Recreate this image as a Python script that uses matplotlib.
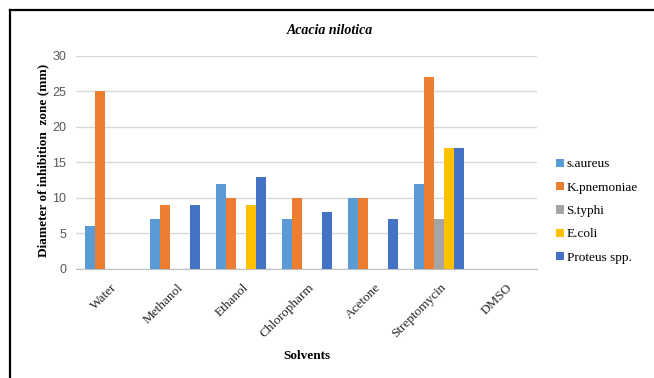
import matplotlib
matplotlib.use("Agg")
import matplotlib.pyplot as plt
import numpy as np
from matplotlib.lines import Line2D
from matplotlib.transforms import ScaledTranslation

solvents = ["Water", "Methanol", "Ethanol", "Chloropharm", "Acetone", "Streptomycin", "DMSO"]
s_aureus = [6, 7, 12, 7, 10, 12, 0]
k_pnemoniae = [25, 9, 10, 10, 10, 27, 0]
s_typhi = [0, 0, 0, 0, 0, 7, 0]
e_coli = [0, 0, 9, 0, 0, 17, 0]
proteus = [0, 9, 13, 8, 7, 17, 0]
series_names = ["s.aureus", "K.pnemoniae", "S.typhi", "E.coli", "Proteus spp."]
colors = ["#5B9BD5", "#ED7D31", "#A5A5A5", "#FFC000", "#4472C4"]
y_ticks = [0, 5, 10, 15, 20, 25, 30]

serif = "Liberation Serif"

fig = plt.figure(figsize=(6.54, 3.78), dpi=100)
ax = fig.add_axes([0.1162, 0.2884, 0.7049, 0.5635])

x = np.arange(len(solvents))
bar_w = 0.152
all_series = [s_aureus, k_pnemoniae, s_typhi, e_coli, proteus]
for i, (vals, name, c) in enumerate(zip(all_series, series_names, colors)):
    ax.bar(x + (i - 2) * bar_w + 0.01, vals, width=bar_w, color=c, label=name, zorder=3)

ax.set_xlim(-0.5, len(solvents) - 0.5)
ax.set_ylim(0, 30)
ax.set_yticks(y_ticks)
ax.yaxis.grid(True, color="#D9D9D9", linewidth=1, zorder=0)
for side in ["top", "right", "left"]:
    ax.spines[side].set_visible(False)
ax.spines["bottom"].set_color("#BFBFBF")
ax.tick_params(axis="y", length=0, labelsize=9, labelcolor="#595959", pad=7)
ax.tick_params(axis="x", length=0, pad=9)
for lbl in ax.get_yticklabels():
    lbl.set_family("Liberation Sans")

ax.set_xticks(x)
ax.set_xticklabels(solvents, rotation=45, ha="right", va="top", rotation_mode="anchor",
                   fontsize=9.5, family=serif, color="#262626")
shift = ScaledTranslation(2 / 100, 0, fig.dpi_scale_trans)
for lbl in ax.get_xticklabels():
    lbl.set_transform(lbl.get_transform() + shift)

fig.text(0.505, 0.918, "Acacia nilotica", ha="center", va="center", fontsize=10,
         family=serif, style="italic", weight="bold")
fig.text(0.066, 0.575, "Diameter of inhibition  zone (mm)", rotation=90, ha="center",
         va="center", fontsize=9.5, family=serif, weight="bold")
fig.text(0.469, 0.058, "Solvents", ha="center", va="center", fontsize=9.5,
         family=serif, weight="bold")

handles, labels = ax.get_legend_handles_labels()
fig.legend(handles, labels, loc="upper left", bbox_to_anchor=(0.842, 0.595),
           frameon=False, handlelength=0.6, handleheight=0.6, handletextpad=0.2,
           labelspacing=0.86, borderaxespad=0, prop={"family": serif, "size": 9.5})

# frame lines along the top and left edges
fig.add_artist(Line2D([10 / 654, 1.0], [1 - 10 / 378, 1 - 10 / 378],
                      transform=fig.transFigure, color="black", linewidth=1.6))
fig.add_artist(Line2D([10 / 654, 10 / 654], [0, 1 - 10 / 378],
                      transform=fig.transFigure, color="black", linewidth=1.6))

fig.savefig("out.png", dpi=100)
